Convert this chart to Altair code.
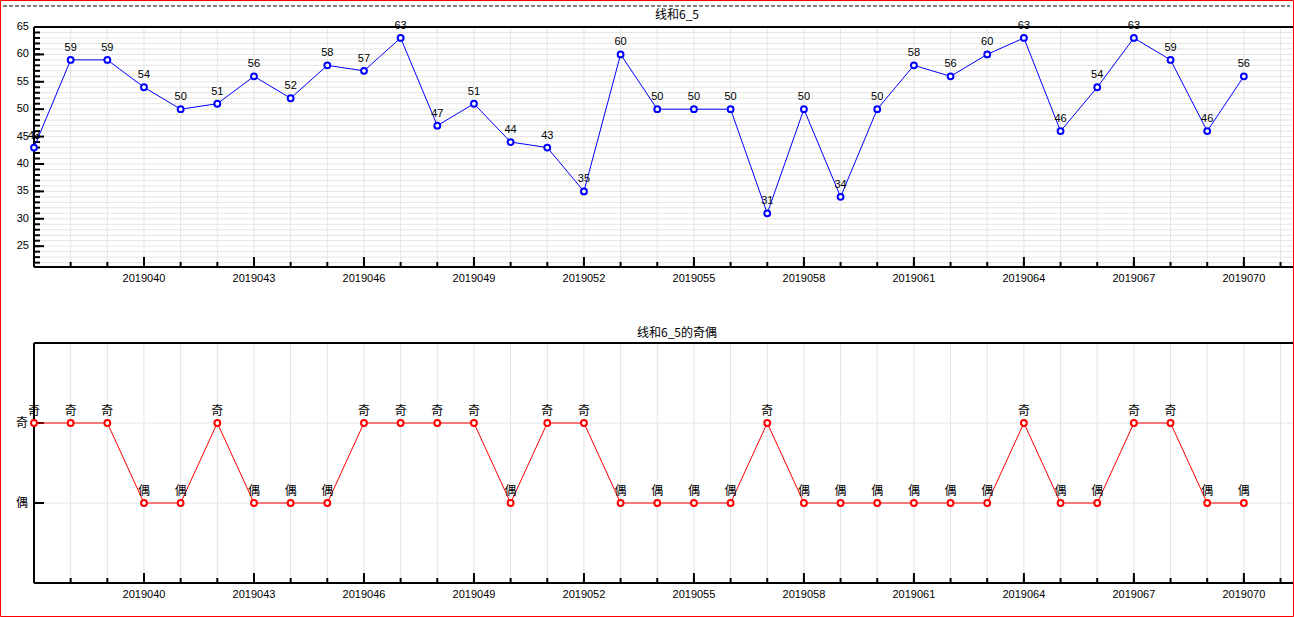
import altair as alt
import pandas as pd

# ---------------- data ----------------
issues = list(range(2019037, 2019071))
values = [43, 59, 59, 54, 50, 51, 56, 52, 58, 57, 63, 47, 51, 44, 43, 35, 60,
          50, 50, 50, 31, 50, 34, 50, 58, 56, 60, 63, 46, 54, 63, 59, 46, 56]
parity = ["奇" if v % 2 else "偶" for v in values]
parity_num = [1 if v % 2 else 0 for v in values]
x_tick_labels = list(range(2019040, 2019071, 3))
grid_issues = list(range(2019038, 2019072))
y_tick_labels = [25, 30, 35, 40, 45, 50, 55, 60, 65]
y_minor = list(range(22, 65))
parity_ticks = ["偶", "奇"]
parity_tick_vals = [0, 1]
top_title = "线和6_5"
bottom_title = "线和6_5的奇偶"

# ---------------- layout constants ----------------
W, H = 1259, 240
GRID = "#e4e4e4"
NUM_FONT = "Liberation Sans"
CJK_FONT = "Noto Sans CJK SC"

df = pd.DataFrame({"issue": issues, "value": values, "parity": parity, "pnum": parity_num})
df_grid = pd.DataFrame({"issue": grid_issues})
df_major = pd.DataFrame({"issue": x_tick_labels})
df_xlab = pd.DataFrame({"issue": x_tick_labels, "label": [str(v) for v in x_tick_labels]})
df_ymin = pd.DataFrame({"y": y_minor})
df_ymaj = pd.DataFrame({"y": y_tick_labels, "label": [str(v) for v in y_tick_labels]})
df_pt = pd.DataFrame({"y": parity_tick_vals, "label": parity_ticks})
one = pd.DataFrame({"a": [0]})

xs = alt.Scale(domain=[2019037, 2019071.34], nice=False, zero=False)
ys_top = alt.Scale(domain=[21.2, 65], nice=False, zero=False)
ys_bot = alt.Scale(domain=[-1, 2], nice=False, zero=False)


def X(field="issue"):
    return alt.X(f"{field}:Q", scale=xs, axis=None)


def Y(field, scale):
    return alt.Y(f"{field}:Q", scale=scale, axis=None)


def common_x_layers():
    vgrid = alt.Chart(df_grid).mark_rule(color=GRID, strokeWidth=1).encode(
        x=X(), y=alt.value(0), y2=alt.value(H))
    minor_t = alt.Chart(df_grid).mark_rule(color="black", strokeWidth=2).encode(
        x=X(), y=alt.value(H), y2=alt.value(H - 5))
    major_t = alt.Chart(df_major).mark_rule(color="black", strokeWidth=2).encode(
        x=X(), y=alt.value(H), y2=alt.value(H - 10))
    xlab = alt.Chart(df_xlab).mark_text(font=NUM_FONT, fontSize=11, baseline="middle",
                                        align="center", color="black").encode(
        x=X(), y=alt.value(H + 12), text="label:N")
    return vgrid, minor_t, major_t, xlab


def frame_layers():
    left = alt.Chart(one).mark_rule(color="black", strokeWidth=2).encode(
        x=alt.value(0), y=alt.value(0), y2=alt.value(H))
    top = alt.Chart(one).mark_rule(color="black", strokeWidth=2).encode(
        x=alt.value(0), x2=alt.value(W), y=alt.value(0))
    bottom = alt.Chart(one).mark_rule(color="black", strokeWidth=2).encode(
        x=alt.value(0), x2=alt.value(W), y=alt.value(H))
    return left, top, bottom


# ---------------- top panel ----------------
hgrid = alt.Chart(df_ymin).mark_rule(color=GRID, strokeWidth=1).encode(
    y=Y("y", ys_top), x=alt.value(0), x2=alt.value(W))
y_minor_t = alt.Chart(df_ymin).mark_rule(color="black", strokeWidth=2).encode(
    y=Y("y", ys_top), x=alt.value(0), x2=alt.value(6))
y_major_t = alt.Chart(df_ymaj).mark_rule(color="black", strokeWidth=2).encode(
    y=Y("y", ys_top), x=alt.value(0), x2=alt.value(10))
ylab = alt.Chart(df_ymaj).mark_text(font=NUM_FONT, fontSize=11, align="right",
                                    baseline="middle", color="black").encode(
    y=Y("y", ys_top), x=alt.value(-5), text="label:N")

line_top = alt.Chart(df).mark_line(color="#0000ff", strokeWidth=1).encode(
    x=X(), y=Y("value", ys_top))
pts_top = alt.Chart(df).mark_point(shape="circle", size=34, filled=False, fill="white",
                                   fillOpacity=1, color="#0000ff", strokeWidth=2,
                                   opacity=1).encode(
    x=X(), y=Y("value", ys_top))
lab_top = alt.Chart(df).mark_text(font=NUM_FONT, fontSize=11, baseline="middle",
                                  align="center", dy=-12, color="black").encode(
    x=X(), y=Y("value", ys_top), text="value:Q")

title_top = alt.Chart(one).mark_text(font=CJK_FONT, fontSize=12, baseline="middle",
                                     align="center", color="black").encode(
    x=alt.value(643), y=alt.value(-12), text=alt.value(top_title))
dashed = alt.Chart(one).mark_rule(color="black", strokeWidth=1, strokeDash=[4, 2]).encode(
    x=alt.value(-31), x2=alt.value(1256), y=alt.value(-21))

# red border of the whole figure (drawn from the top panel's coordinates)
b_left = alt.Chart(one).mark_rule(color="#ff0000", strokeWidth=1).encode(
    x=alt.value(-33.5), y=alt.value(-26.5), y2=alt.value(589.5))
b_right = alt.Chart(one).mark_rule(color="#ff0000", strokeWidth=1).encode(
    x=alt.value(1259.5), y=alt.value(-26.5), y2=alt.value(589.5))
b_top = alt.Chart(one).mark_rule(color="#ff0000", strokeWidth=1).encode(
    x=alt.value(-33.5), x2=alt.value(1259.5), y=alt.value(-26.5))
b_bottom = alt.Chart(one).mark_rule(color="#ff0000", strokeWidth=1).encode(
    x=alt.value(-33.5), x2=alt.value(1259.5), y=alt.value(589.5))

vg, mi, ma, xl = common_x_layers()
fl, ft, fb = frame_layers()
top_chart = alt.layer(
    hgrid, vg, y_minor_t, y_major_t, mi, ma, fl, ft, fb, ylab, xl,
    line_top, pts_top, lab_top, title_top, dashed,
    b_left, b_right, b_top, b_bottom
).properties(width=W, height=H)

# ---------------- bottom panel ----------------
hgrid_b = alt.Chart(df_pt).mark_rule(color=GRID, strokeWidth=1).encode(
    y=Y("y", ys_bot), x=alt.value(0), x2=alt.value(W))
y_t_b = alt.Chart(df_pt).mark_rule(color="black", strokeWidth=2).encode(
    y=Y("y", ys_bot), x=alt.value(0), x2=alt.value(10))
ylab_b = alt.Chart(df_pt).mark_text(font=CJK_FONT, fontSize=12, align="right",
                                    baseline="middle", color="black").encode(
    y=Y("y", ys_bot), x=alt.value(-6), text="label:N")
line_b = alt.Chart(df).mark_line(color="#ff0000", strokeWidth=1).encode(
    x=X(), y=Y("pnum", ys_bot))
pts_b = alt.Chart(df).mark_point(shape="circle", size=34, filled=False, fill="white",
                                 fillOpacity=1, color="#ff0000", strokeWidth=2,
                                 opacity=1).encode(
    x=X(), y=Y("pnum", ys_bot))
lab_b = alt.Chart(df).mark_text(font=CJK_FONT, fontSize=12, baseline="middle",
                                align="center", dy=-12, color="black").encode(
    x=X(), y=Y("pnum", ys_bot), text="parity:N")
title_b = alt.Chart(one).mark_text(font=CJK_FONT, fontSize=12, baseline="middle",
                                   align="center", color="black").encode(
    x=alt.value(643), y=alt.value(-10), text=alt.value(bottom_title))

vg2, mi2, ma2, xl2 = common_x_layers()
fl2, ft2, fb2 = frame_layers()
bottom_chart = alt.layer(
    hgrid_b, vg2, y_t_b, mi2, ma2, fl2, ft2, fb2, ylab_b, xl2,
    line_b, pts_b, lab_b, title_b
).properties(width=W, height=H)

chart = alt.vconcat(top_chart, bottom_chart, spacing=76, bounds="flush").configure_view(
    stroke=None
).properties(
    autosize=alt.AutoSizeParams(type="pad"),
    padding=0,
    background="white",
)

chart.save("out.html", embed_options={"renderer": "svg", "actions": False})
